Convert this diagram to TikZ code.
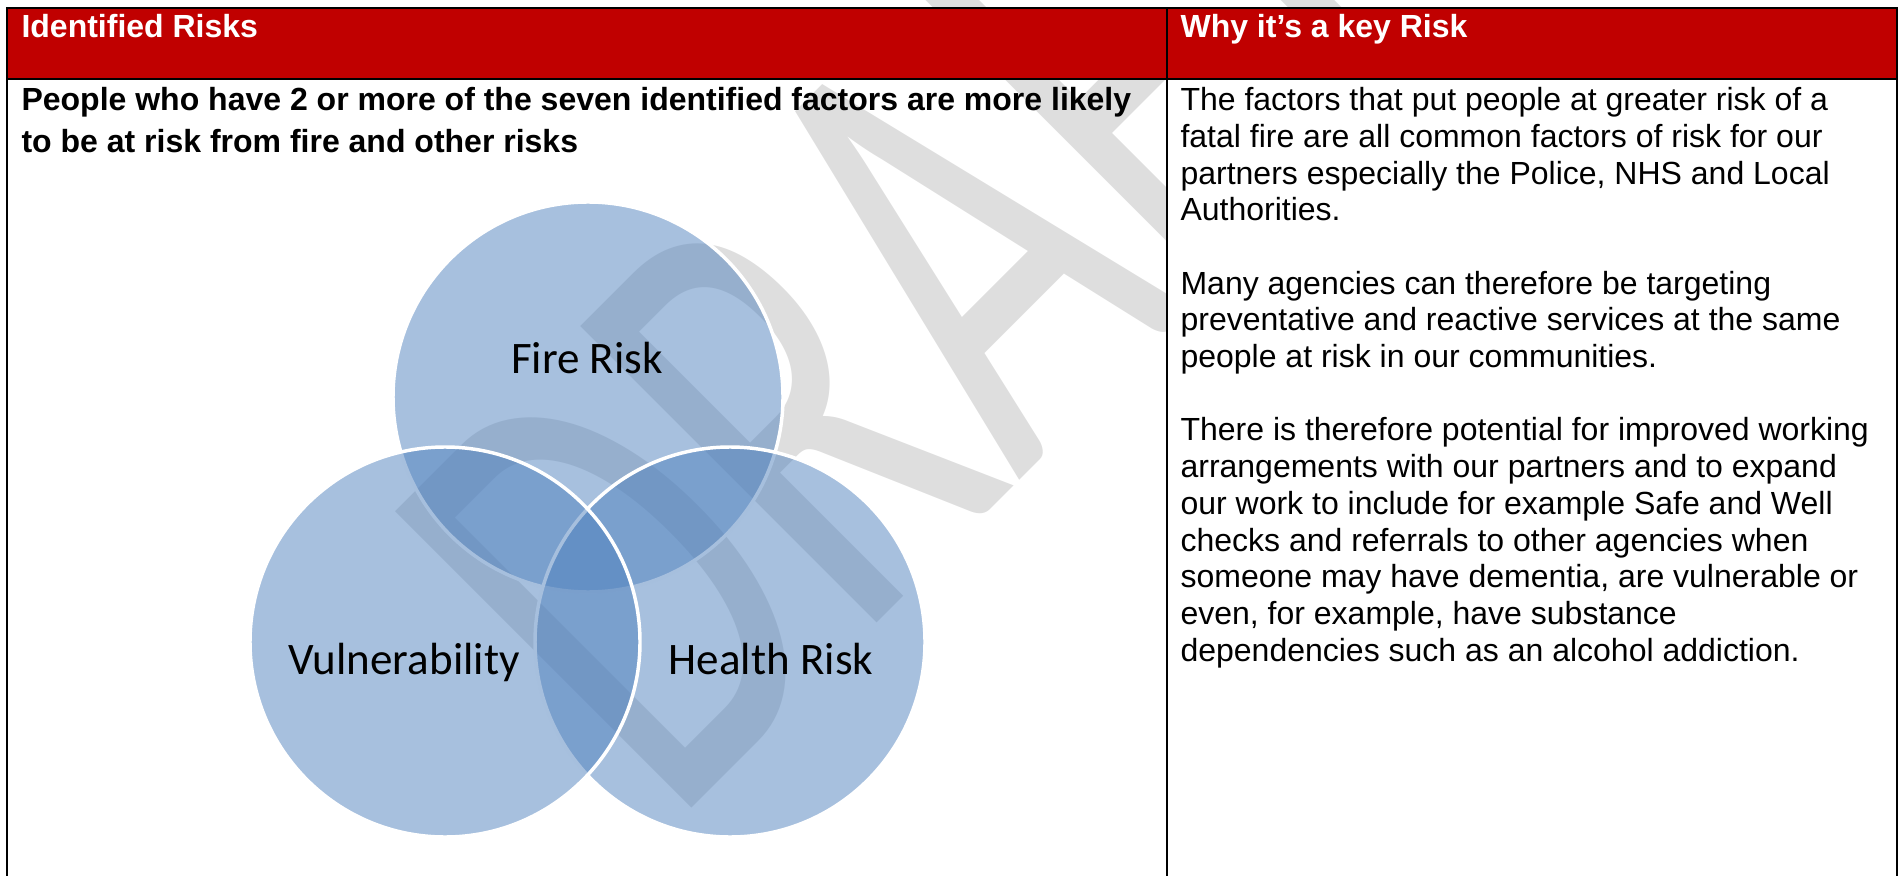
\documentclass[tikz,border=0pt]{standalone}
\usepackage{fontspec}
\setmainfont{Liberation Sans}
\newfontfamily\calibri{Carlito}
\usetikzlibrary{positioning}
\definecolor{riskred}{RGB}{192,0,0}
\definecolor{accentblue}{RGB}{79,129,189}
\definecolor{markgray}{RGB}{222,222,222}
\tikzstyle{grid} = [line width=0.75pt, draw=black]
\tikzstyle{headtext} = [anchor=base west, inner sep=0pt, align=left, text=white, font=\bfseries\fontsize{12}{13.8}\selectfont]
\tikzstyle{bodytext} = [anchor=north west, inner sep=0pt, align=left, font=\fontsize{12}{13.76}\selectfont]
\tikzstyle{boldtext} = [anchor=north west, inner sep=0pt, align=left, font=\bfseries\fontsize{12}{15.75}\selectfont]
\tikzstyle{venn} = [circle, minimum size=146.25pt, inner sep=0pt, fill=accentblue, fill opacity=0.5, draw=white, draw opacity=1, line width=1.3pt]
\tikzstyle{vennlabel} = [anchor=base, inner sep=0pt, font=\calibri\fontsize{16.9}{20}\selectfont]
\tikzstyle{watermark} = [anchor=base west, inner sep=0pt, rotate=45, xscale=0.65, text=markgray, font=\calibri\fontsize{245}{245}\selectfont]

\begin{document}
\begin{tikzpicture}[x=0.375pt, y=-0.375pt]
\useasboundingbox (0,0) rectangle (1899,876);

\node (draft) [watermark] at (671,829) {DRAFT};

\fill[white] (1167,79) rectangle (1897,876);
\fill[riskred] (7,8) rectangle (1897,79);
\draw[grid] (7,876) -- (7,8) -- (1897,8) -- (1897,876);
\draw[grid] (7,79) -- (1897,79);
\draw[grid] (1167,8) -- (1167,876);

\node (headleft) [headtext] at (21,38) {Identified Risks};
\node (headright) [headtext] at (1180,38) {Why it’s a key Risk};

\node (intro) [boldtext] at (21,87) {People who have 2 or more of the seven identified factors are more likely\\to be at risk from fire and other risks};

\node (why) [bodytext] at (1180,87) {The factors that put people at greater risk of a\\fatal fire are all common factors of risk for our\\partners especially the Police, NHS and Local\\Authorities.\\[13.76pt]Many agencies can therefore be targeting\\preventative and reactive services at the same\\people at risk in our communities.\\[13.76pt]There is therefore potential for improved working\\arrangements with our partners and to expand\\our work to include for example Safe and Well\\checks and referrals to other agencies when\\someone may have dementia, are vulnerable or\\even, for example, have substance\\dependencies such as an alcohol addiction.};

\node (fire) [venn] at (588,397) {};
\node (health) [venn] at (730,642) {};
\node (vuln) [venn] at (445,642) {};

\node (firelabel) [vennlabel] at (587,374) {Fire Risk};
\node (vulnlabel) [vennlabel] at (404,674) {Vulnerability};
\node (healthlabel) [vennlabel] at (771,674) {Health Risk};

\end{tikzpicture}
\end{document}
